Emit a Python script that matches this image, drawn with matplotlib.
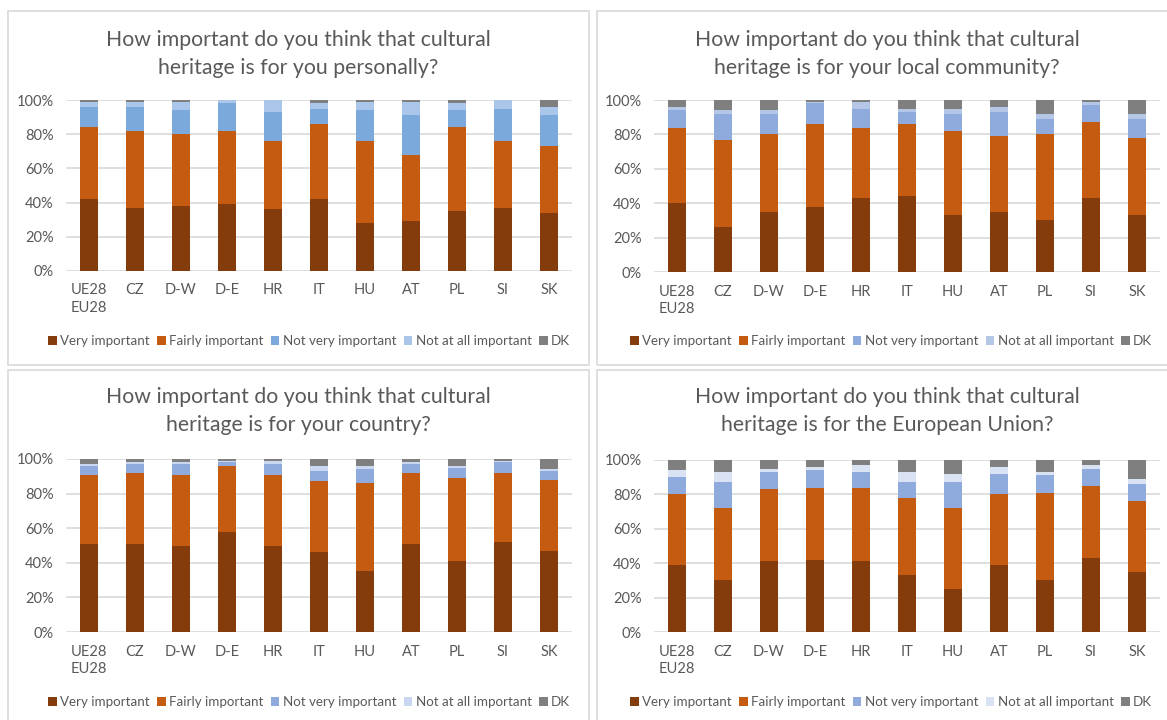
import matplotlib.pyplot as plt
import numpy as np
from matplotlib.patches import Patch, Rectangle

# ---------------------------------------------------------------------------
# Data (percent of respondents)
# ---------------------------------------------------------------------------

countries = ["UE28\nEU28", "CZ", "D-W", "D-E", "HR", "IT", "HU", "AT", "PL", "SI", "SK"]
answers = ["Very important", "Fairly important", "Not very important",
           "Not at all important", "DK"]

# ... for you personally
personal_very   = [42, 37, 38, 39, 36, 42, 28, 29, 35, 37, 34]
personal_fairly = [42, 45, 42, 43, 40, 44, 48, 39, 49, 39, 39]
personal_notvery = [12, 14, 14, 16, 17, 9, 18, 23, 10, 19, 18]
personal_notall = [3, 3, 5, 2, 7, 3, 5, 8, 4, 5, 5]
personal_dk     = [1, 1, 1, 0, 0, 2, 1, 1, 2, 0, 4]

# ... for your local community
local_very   = [40, 26, 35, 38, 43, 44, 33, 35, 30, 43, 33]
local_fairly = [44, 51, 45, 48, 41, 42, 49, 44, 50, 44, 45]
local_notvery = [10, 15, 12, 12, 11, 7, 10, 14, 9, 10, 11]
local_notall = [2, 2, 2, 1, 4, 2, 3, 3, 3, 2, 3]
local_dk     = [4, 6, 6, 1, 1, 5, 5, 4, 8, 1, 8]

# ... for your country
country_very   = [51, 51, 50, 58, 50, 46, 35, 51, 41, 52, 47]
country_fairly = [40, 41, 41, 38, 41, 41, 51, 41, 48, 40, 41]
country_notvery = [5, 5, 6, 2, 6, 6, 8, 5, 6, 6, 5]
country_notall = [1, 1, 1, 1, 2, 3, 2, 1, 1, 1, 1]
country_dk     = [3, 2, 2, 1, 1, 4, 4, 2, 4, 1, 6]

# ... for the European Union
eu_very   = [39, 30, 41, 42, 41, 33, 25, 39, 30, 43, 35]
eu_fairly = [41, 42, 42, 42, 43, 45, 47, 41, 51, 42, 41]
eu_notvery = [10, 15, 10, 10, 9, 9, 15, 12, 10, 10, 10]
eu_notall = [4, 6, 2, 2, 4, 6, 5, 4, 2, 2, 3]
eu_dk     = [6, 7, 5, 4, 3, 7, 8, 4, 7, 3, 11]

# ---------------------------------------------------------------------------
# Layout (pixel boxes in a 1167x720 canvas)
# ---------------------------------------------------------------------------

W, H = 1167, 720
TEXT = "#595959"
FONT = "Lato"

panels = [
    dict(title="How important do you think that cultural\nheritage is for you personally?",
         data=[personal_very, personal_fairly, personal_notvery, personal_notall, personal_dk],
         blues=["#7BA9DB", "#AAC6EA"],
         box=(8, 11, 581, 354), ax=(66, 100, 506, 171), title_y=54, legend=(309, 341)),
    dict(title="How important do you think that cultural\nheritage is for your local community?",
         data=[local_very, local_fairly, local_notvery, local_notall, local_dk],
         blues=["#8FAADC", "#B4C7E7"],
         box=(597, 11, 580, 354), ax=(654, 100, 506, 172), title_y=54, legend=(891, 341)),
    dict(title="How important do you think that cultural\nheritage is for your country?",
         data=[country_very, country_fairly, country_notvery, country_notall, country_dk],
         blues=["#8FAADC", "#C9D7F0"],
         box=(8, 370, 581, 360), ax=(66, 459, 506, 173), title_y=411, legend=(309, 702)),
    dict(title="How important do you think that cultural\nheritage is for the European Union?",
         data=[eu_very, eu_fairly, eu_notvery, eu_notall, eu_dk],
         blues=["#8FAADC", "#DAE3F3"],
         box=(597, 370, 580, 360), ax=(654, 460, 506, 172), title_y=411, legend=(891, 702)),
]


def fig_rect(x, y, w, h):
    return [x / W, 1 - (y + h) / H, w / W, h / H]


fig = plt.figure(figsize=(W / 100, H / 100), dpi=100)
fig.patch.set_facecolor("white")

x = np.arange(len(countries))

for p in panels:
    bx, by, bw, bh = p["box"]
    fig.patches.append(Rectangle((bx / W, 1 - (by + bh) / H), bw / W, bh / H,
                                 transform=fig.transFigure, fill=False,
                                 edgecolor="#D9D9D9", lw=1.2))

    colors = ["#843C0C", "#C55A11", p["blues"][0], p["blues"][1], "#7F7F7F"]

    ax = fig.add_axes(fig_rect(*p["ax"]))
    bottom = np.zeros(len(countries))
    for vals, col in zip(p["data"], colors):
        ax.bar(x, vals, bottom=bottom, width=0.41, color=col, zorder=3)
        bottom += np.array(vals)

    ax.set_xlim(-0.5, len(countries) - 0.5)
    ax.set_ylim(0, 100)
    ax.set_yticks(range(0, 101, 20))
    ax.set_yticklabels([f"{v}%" for v in range(0, 101, 20)])
    ax.set_xticks(x)
    ax.set_xticklabels(countries, linespacing=1.35)
    ax.tick_params(length=0, colors=TEXT, labelsize=10.5, pad=9)
    for lab in ax.get_xticklabels() + ax.get_yticklabels():
        lab.set_fontfamily(FONT)
    ax.grid(axis="y", color="#D9D9D9", lw=1.2, zorder=0)
    for s in ax.spines.values():
        s.set_visible(False)

    cx = bx + 290
    fig.text(cx / W, 1 - p["title_y"] / H, p["title"], ha="center", va="center",
             fontsize=15.3, color=TEXT, family=FONT, linespacing=1.45)

    handles = [Patch(facecolor=c, label=a) for c, a in zip(colors, answers)]
    lx, ly = p["legend"]
    fig.legend(handles=handles, loc="center", bbox_to_anchor=(lx / W, 1 - ly / H),
               ncol=5, frameon=False, handlelength=0.65, handleheight=0.65,
               columnspacing=0.55, handletextpad=0.25,
               prop=dict(family=FONT, size=9.6), labelcolor=TEXT)

fig.savefig("out.png", dpi=100)
